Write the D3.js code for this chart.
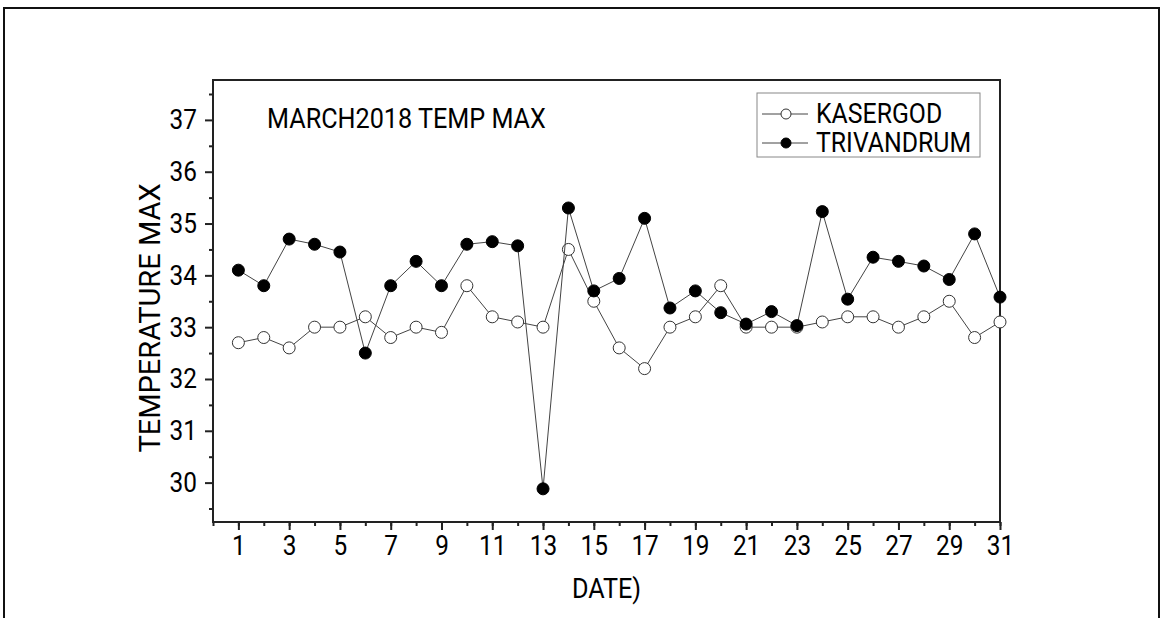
<!DOCTYPE html>
<html>
<head>
<meta charset="utf-8">
<script src="https://cdn.jsdelivr.net/npm/d3@7"></script>
<style>
  body { margin: 0; background: #fff; }
  text { font-family: Roboto, "DejaVu Sans", sans-serif; fill: #000; }
</style>
</head>
<body>
<script>
// march 2018 daily max temperature
var days = d3.range(1, 32);
var kasergod = [32.7, 32.8, 32.6, 33.0, 33.0, 33.2, 32.8, 33.0, 32.9, 33.8,
                33.2, 33.1, 33.0, 34.5, 33.5, 32.6, 32.2, 33.0, 33.2, 33.8,
                33.0, 33.0, 33.0, 33.1, 33.2, 33.2, 33.0, 33.2, 33.5, 32.8, 33.1];
var trivandrum = [34.1, 33.8, 34.7, 34.6, 34.45, 32.5, 33.8, 34.27, 33.8, 34.6,
                  34.65, 34.57, 29.88, 35.3, 33.7, 33.94, 35.1, 33.37, 33.7, 33.28,
                  33.06, 33.3, 33.03, 35.23, 33.54, 34.35, 34.27, 34.18, 33.92, 34.8, 33.58];
var yTicks = [30, 31, 32, 33, 34, 35, 36, 37];
var xTicks = [1, 3, 5, 7, 9, 11, 13, 15, 17, 19, 21, 23, 25, 27, 29, 31];
var seriesNames = ["KASERGOD", "TRIVANDRUM"];

var W = 1163, H = 618;
var pL = 213, pR = 1000, pT = 80, pB = 522;
var squeeze = 0.87; // the original lettering is a bit narrow

var svg = d3.select("body").append("svg")
    .attr("width", W)
    .attr("height", H);

// outer frame of the figure
svg.append("rect")
    .attr("x", 4).attr("y", 8)
    .attr("width", 1155).attr("height", 700)
    .attr("fill", "none").attr("stroke", "#111").attr("stroke-width", 2);

var x = d3.scaleLinear().domain([0, 31]).range([pL, pR]);
var y = d3.scaleLinear().domain([29.24, 37.77]).range([pB, pT]);

// minor ticks first, then majors with labels
svg.append("g")
    .attr("transform", "translate(0," + pB + ")")
    .call(d3.axisBottom(x).tickValues(d3.range(0, 32)).tickSize(4).tickFormat(""))
    .call(g => g.select(".domain").remove());
svg.append("g")
    .attr("transform", "translate(" + pL + ",0)")
    .call(d3.axisLeft(y).tickValues(d3.range(29.5, 38, 1)).tickSize(4).tickFormat(""))
    .call(g => g.select(".domain").remove());

var xAxis = svg.append("g")
    .attr("transform", "translate(0," + pB + ")")
    .call(d3.axisBottom(x).tickValues(xTicks).tickSize(8).tickPadding(5).tickSizeOuter(0));
xAxis.select(".domain").remove();
xAxis.selectAll("text")
    .attr("font-size", 28).attr("font-family", null)
    .attr("transform", "scale(" + squeeze + ",1)");

var yAxis = svg.append("g")
    .attr("transform", "translate(" + pL + ",0)")
    .call(d3.axisLeft(y).tickValues(yTicks).tickSize(8).tickPadding(8).tickSizeOuter(0));
yAxis.select(".domain").remove();
yAxis.selectAll("text")
    .attr("font-size", 28).attr("font-family", null)
    .attr("transform", "translate(-16,0) scale(" + squeeze + ",1)")
    .attr("x", 0);

svg.selectAll(".tick line").attr("stroke", "#222").attr("stroke-width", 2);

// plot frame
svg.append("path")
    .attr("d", "M" + pL + "," + pT + "H" + pR + "V" + pB + "H" + pL + "Z")
    .attr("fill", "none").attr("stroke", "#222").attr("stroke-width", 2);

svg.append("text")
    .attr("transform", "translate(267,128) scale(0.9,1)")
    .attr("font-size", 28)
    .text("MARCH2018 TEMP MAX");

svg.append("text")
    .attr("transform", "translate(160,318) rotate(-90)")
    .attr("text-anchor", "middle")
    .attr("font-size", 29)
    .text("TEMPERATURE MAX");

svg.append("text")
    .attr("transform", "translate(" + (pL + pR) / 2 + ",598) scale(0.9,1)")
    .attr("text-anchor", "middle")
    .attr("font-size", 28)
    .text("DATE)");

var line = d3.line()
    .x((d, i) => x(days[i]))
    .y(d => y(d));

function drawSeries(vals, filled) {
  svg.append("path")
      .datum(vals)
      .attr("d", line)
      .attr("fill", "none")
      .attr("stroke", "#444")
      .attr("stroke-width", 1);
  svg.append("g").selectAll("circle")
      .data(vals)
      .join("circle")
      .attr("cx", (d, i) => x(days[i]))
      .attr("cy", d => y(d))
      .attr("r", 6)
      .attr("fill", filled ? "#000" : "#fff")
      .attr("stroke", filled ? "#000" : "#333")
      .attr("stroke-width", 1);
}
drawSeries(kasergod, false);
drawSeries(trivandrum, true);

// legend
var lg = svg.append("g");
lg.append("rect")
    .attr("x", 757).attr("y", 93)
    .attr("width", 223).attr("height", 64)
    .attr("fill", "#fff").attr("stroke", "#888").attr("stroke-width", 1);
seriesNames.forEach(function(name, i) {
  var ly = 114 + i * 29;
  lg.append("line")
      .attr("x1", 762).attr("x2", 808)
      .attr("y1", ly).attr("y2", ly)
      .attr("stroke", "#444").attr("stroke-width", 1);
  lg.append("circle")
      .attr("cx", 786).attr("cy", ly).attr("r", 5)
      .attr("fill", i ? "#000" : "#fff")
      .attr("stroke", i ? "#000" : "#333");
  lg.append("text")
      .attr("transform", "translate(816," + (ly + 9) + ") scale(0.92,1)")
      .attr("font-size", 27)
      .text(name);
});
</script>
</body>
</html>
